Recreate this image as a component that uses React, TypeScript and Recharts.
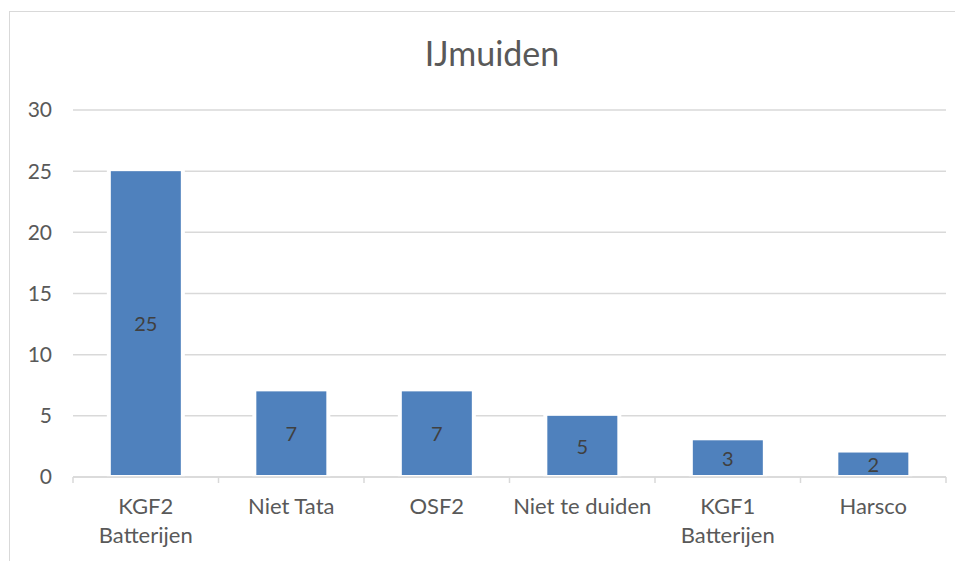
import React from "react";
import { BarChart, Bar, XAxis, YAxis, CartesianGrid, LabelList } from "recharts";

const categories = ["KGF2 Batterijen", "Niet Tata", "OSF2", "Niet te duiden", "KGF1 Batterijen", "Harsco"];
const values = [25, 7, 7, 5, 3, 2];
const yTicks = [0, 5, 10, 15, 20, 25, 30];
const title = "IJmuiden";

const data = categories.map((c, i) => ({ name: c, value: values[i] }));

const W = 955;
const H = 553;
const MARGIN = { top: 102, right: 17, bottom: 24, left: 25 };
const Y_W = 40;
const PLOT_W = W - MARGIN.left - MARGIN.right - Y_W;
const BAND = PLOT_W / categories.length;
const TICK_SIZE = 6;
const TICK_MARGIN = 15;
const FONT = "Lato, 'Open Sans', sans-serif";
const GRID = "#d9d9d9";

const XTick = (props: any) => {
  const { x, y, payload, index } = props;
  const axisY = y - TICK_SIZE - TICK_MARGIN;
  const label: string = String(payload.value);
  const parts = label.split(" ");
  let lines: string[];
  if (label === "KGF2 Batterijen" || label === "KGF1 Batterijen") lines = parts;
  else lines = [label];
  return (
    <g>
      <line x1={x - BAND / 2} y1={axisY} x2={x - BAND / 2} y2={axisY + TICK_SIZE} stroke={GRID} strokeWidth={1.5} />
      {index === categories.length - 1 && (
        <line x1={x + BAND / 2} y1={axisY} x2={x + BAND / 2} y2={axisY + TICK_SIZE} stroke={GRID} strokeWidth={1.5} />
      )}
      <text x={x} y={y} textAnchor="middle" fill="#595959" fontSize={22} fontFamily={FONT}>
        {lines.map((l, i) => (
          <tspan key={i} x={x} dy={i === 0 ? "0.72em" : 29}>
            {l}
          </tspan>
        ))}
      </text>
    </g>
  );
};

const BarShape = (props: any) => {
  const { x, y, width, height } = props;
  return (
    <g>
      <rect x={x - 4} y={y - 2} width={width + 8} height={height + 2} fill="#ffffff" />
      <rect x={x} y={y} width={width} height={height - 2} fill="#4f81bd" />
    </g>
  );
};

export default function App() {
  return (
    <div style={{ position: "relative", width: W, height: H, overflow: "hidden" }}>
      <div
        style={{
          position: "absolute",
          left: 1,
          top: 3,
          width: 1200,
          height: 1200,
          border: `1px solid ${GRID}`,
          boxSizing: "border-box",
        }}
      />
      <div
        style={{
          position: "absolute",
          left: 0,
          top: 26,
          width: 968,
          textAlign: "center",
          fontFamily: FONT,
          fontSize: 34,
          color: "#595959",
          lineHeight: "38px",
        }}
      >
        {title}
      </div>
      <div style={{ position: "absolute", left: 0, top: 0 }}>
        <BarChart width={W} height={H} data={data} margin={MARGIN} barCategoryGap="26%">
          <CartesianGrid vertical={false} stroke={GRID} strokeWidth={1.5} />
          <XAxis
            dataKey="name"
            interval={0}
            height={60}
            axisLine={{ stroke: GRID, strokeWidth: 1.5 }}
            tickLine={false}
            tickSize={TICK_SIZE}
            tickMargin={TICK_MARGIN}
            tick={<XTick />}
          />
          <YAxis
            width={Y_W}
            domain={[0, 30]}
            ticks={yTicks}
            axisLine={false}
            tickLine={false}
            tickMargin={15}
            tick={{ fill: "#595959", fontSize: 21, fontFamily: FONT }}
          />
          <Bar dataKey="value" isAnimationActive={false} shape={<BarShape />}>
            <LabelList dataKey="value" position="center" fill="#404040" fontSize={20} fontFamily={FONT} />
          </Bar>
        </BarChart>
      </div>
    </div>
  );
}
